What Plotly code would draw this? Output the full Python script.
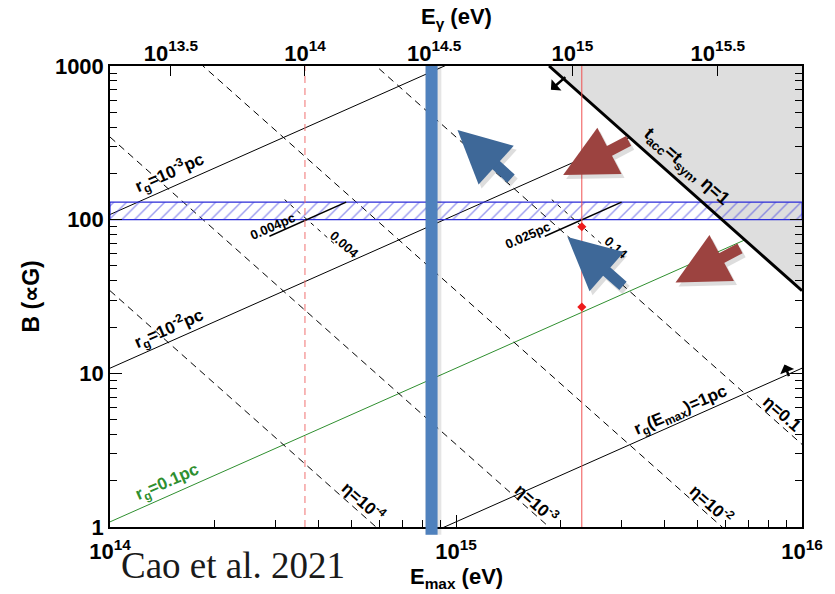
import numpy as np
import plotly.graph_objects as go

# ---------------- data ----------------
E_RANGE = [1e14, 1e16]          # E_max axis (eV)
B_RANGE = [1.0, 1000.0]         # magnetic field axis (uG)

rg_lines_pc = [1e-3, 1e-2, 0.1, 1.0]             # gyroradius contours
rg_colors = ["black", "black", "#2f8f2f", "black"]
eta_lines = [1e-4, 1e-3, 1e-2, 0.1]              # dashed efficiency contours
eta_limit = 1.0                                  # t_acc = t_syn, eta = 1

band_B = [100.0, 130.0]                          # hatched field band
rg_segments_pc = [0.004, 0.025]
rg_segment_B = [78.0, 130.0]
eta_segments = [0.004, 0.14]
eta_segment_B = [70.0, 135.0]

E_red_dashed = 3.66e14
E_red_solid = 2.31e15
E_blue_bar = 8.5e14
red_marks_B = [90.0, 27.0]

egamma_at_Emax = [1.50e14, 3.66e14, 8.65e14, 2.17e15, 5.71e15]
egamma_labels = ["10<sup>13.5</sup>", "10<sup>14</sup>", "10<sup>14.5</sup>",
                 "10<sup>15</sup>", "10<sup>15.5</sup>"]

x_major = [1e14, 1e15, 1e16]
x_major_text = ["10<sup>14</sup>", "10<sup>15</sup>", "10<sup>16</sup>"]
y_major = [1, 10, 100, 1000]
y_major_text = ["1", "10", "100", "1000"]


# ---------------- relations ----------------
def B_rg(E, rg):
    """Field giving gyroradius rg (pc) at energy E (eV)."""
    return 1.08 * (np.asarray(E) / 1e15) / rg


def E_rg(B, rg):
    return np.asarray(B) * rg / 1.08 * 1e15


def B_eta(E, eta):
    """Field where synchrotron loss limits acceleration at efficiency eta."""
    return 3450.0 * eta / (np.asarray(E) / 1e15) ** 2


def E_eta(B, eta):
    return 1e15 * np.sqrt(3450.0 * eta / np.asarray(B))


FONT = "Liberation Sans, Arial, sans-serif"
fig = go.Figure()

# gyroradius lines
for rg, col in zip(rg_lines_pc, rg_colors):
    fig.add_trace(go.Scatter(x=E_RANGE, y=B_rg(E_RANGE, rg), mode="lines",
                             line=dict(color=col, width=1), hoverinfo="skip"))

# efficiency lines
for eta in eta_lines:
    fig.add_trace(go.Scatter(x=E_RANGE, y=B_eta(E_RANGE, eta), mode="lines",
                             line=dict(color="black", width=1, dash="7px,5px"),
                             hoverinfo="skip"))

# excluded region beyond eta = 1
e_top = float(E_eta(B_RANGE[1], eta_limit))
fig.add_trace(go.Scatter(
    x=[e_top, E_RANGE[1], E_RANGE[1], e_top],
    y=[B_RANGE[1], float(B_eta(E_RANGE[1], eta_limit)), B_RANGE[1], B_RANGE[1]],
    mode="lines", fill="toself", fillcolor="#dedede",
    line=dict(width=0), hoverinfo="skip"))

# hatched band
fig.add_trace(go.Scatter(
    x=[E_RANGE[0], E_RANGE[1], E_RANGE[1], E_RANGE[0], E_RANGE[0]],
    y=[band_B[0], band_B[0], band_B[1], band_B[1], band_B[0]],
    mode="lines", fill="toself", fillcolor="rgba(0,0,0,0)",
    fillpattern=dict(shape="/", fgcolor="#3c3ce0", bgcolor="rgba(0,0,0,0)",
                     size=9, solidity=0.16),
    line=dict(color="#2a2ad8", width=1.2), hoverinfo="skip"))

# short gyroradius segments
for rg in rg_segments_pc:
    fig.add_trace(go.Scatter(x=E_rg(rg_segment_B, rg), y=rg_segment_B, mode="lines",
                             line=dict(color="black", width=1.5), hoverinfo="skip"))

# short efficiency segments
for eta in eta_segments:
    fig.add_trace(go.Scatter(x=E_eta(eta_segment_B, eta), y=eta_segment_B, mode="lines",
                             line=dict(color="black", width=1, dash="4px,5px"),
                             hoverinfo="skip"))

# synchrotron limit
fig.add_trace(go.Scatter(x=[e_top, E_RANGE[1]],
                         y=[B_RANGE[1], float(B_eta(E_RANGE[1], eta_limit))],
                         mode="lines", line=dict(color="black", width=3),
                         hoverinfo="skip"))

# vertical energy markers
fig.add_trace(go.Scatter(x=[E_red_dashed, E_red_dashed], y=B_RANGE, mode="lines",
                         line=dict(color="#f07070", width=1, dash="7px,5px"),
                         hoverinfo="skip"))
fig.add_trace(go.Scatter(x=[E_red_solid, E_red_solid], y=B_RANGE, mode="lines",
                         line=dict(color="#f05050", width=1), hoverinfo="skip"))
fig.add_trace(go.Scatter(x=[E_red_solid] * len(red_marks_B), y=red_marks_B,
                         mode="markers",
                         marker=dict(symbol="diamond", size=7, color="#ee1c1c"),
                         hoverinfo="skip"))

# invisible trace for the top E_gamma axis
fig.add_trace(go.Scatter(x=E_RANGE, y=B_RANGE, xaxis="x2", mode="markers",
                         marker=dict(opacity=0), hoverinfo="skip"))

# blue energy bar (with soft shadow)
fig.add_shape(type="line", xref="x", yref="paper", x0=E_blue_bar * 1.012,
              x1=E_blue_bar * 1.012, y0=-0.017, y1=1.0,
              line=dict(color="rgba(0,0,0,0.10)", width=16), layer="above")
fig.add_shape(type="line", xref="x", yref="paper", x0=E_blue_bar, x1=E_blue_bar,
              y0=-0.017, y1=1.0, line=dict(color="#4f81bd", width=12), layer="above")

ann = []
lg = np.log10


def label(text, E, B, angle, size=17, color="black", xshift=0, yshift=0):
    ann.append(dict(x=lg(E), y=lg(B), xref="x", yref="y", text=f"<b>{text}</b>",
                    showarrow=False, textangle=angle, xshift=xshift, yshift=yshift,
                    font=dict(family=FONT, size=size, color=color)))


ANG_RG = -23.7
ANG_ETA = 41.3

label("r<sub>g</sub>=10<sup>-3</sup>pc", 1.49e14, B_rg(1.49e14, 1e-3), ANG_RG, yshift=15)
label("r<sub>g</sub>=10<sup>-2</sup>pc", 1.48e14, B_rg(1.48e14, 1e-2), ANG_RG, yshift=14)
label("r<sub>g</sub>=0.1pc", 1.47e14, B_rg(1.47e14, 0.1), ANG_RG, color="#2f8f2f", yshift=13)
label("r<sub>g</sub>(E<sub>max</sub>)=1pc", 4.48e15, B_rg(4.48e15, 1.0), ANG_RG, yshift=11)
label("η=0.1", 8.5e15, B_eta(8.5e15, 0.1), ANG_ETA, yshift=9, xshift=4)
label("η=10<sup>-2</sup>", 5.36e15, B_eta(5.36e15, 1e-2), ANG_ETA, yshift=11, xshift=4)
label("η=10<sup>-3</sup>", 1.67e15, B_eta(1.67e15, 1e-3), ANG_ETA, yshift=10, xshift=4)
label("η=10<sup>-4</sup>", 5.28e14, B_eta(5.28e14, 1e-4), ANG_ETA, yshift=12, xshift=4)
label("t<sub>acc</sub>=t<sub>syn</sub>, η=1", 4.40e15, B_eta(4.40e15, 1.0), ANG_ETA,
      size=18, yshift=14, xshift=8)
label("0.004pc", 2.95e14, B_rg(2.95e14, 0.004), ANG_RG, size=13, yshift=8)
label("0.025pc", 1.61e15, B_rg(1.61e15, 0.025), ANG_RG, size=13, yshift=8)
label("0.004", 4.6e14, B_eta(4.6e14, 0.004), ANG_ETA, size=13, xshift=5, yshift=4)
label("0.14", 2.8e15, B_eta(2.8e15, 0.14), ANG_ETA, size=13, xshift=5, yshift=4)


def big_arrow(E, B, ax, ay, color):
    base = dict(x=lg(E), y=lg(B), xref="x", yref="y", ax=ax, ay=ay, text="",
                showarrow=True, arrowhead=2, arrowsize=0.95, arrowwidth=11)
    ann.append(dict(base, arrowcolor="rgba(0,0,0,0.13)", xshift=3, yshift=-4))
    ann.append(dict(base, arrowcolor=color))


BLUE_ARROW = "#3e6898"
RED_ARROW = "#9c4340"
big_arrow(1.01e15, 383, 55, 50, BLUE_ARROW)
big_arrow(2.10e15, 77, 57, 50, BLUE_ARROW)
big_arrow(2.04e15, 195, 67, -35, RED_ARROW)
big_arrow(4.31e15, 39, 66, -35, RED_ARROW)


def small_arrow(E, B, ax, ay):
    ann.append(dict(x=lg(E), y=lg(B), xref="x", yref="y", ax=ax, ay=ay, text="",
                    showarrow=True, arrowhead=1, arrowsize=1.0, arrowwidth=2.5,
                    arrowcolor="black", standoff=0, startstandoff=0))


# small direction arrows (away from the synchrotron limit, up from r_g = 1 pc)
small_arrow(1.88e15, 700, 16, -14)
small_arrow(8.9e15, 11.4, 5, 13)

# axis titles and credit
ann.append(dict(x=0.5, y=0, xref="paper", yref="paper", yshift=-51, yanchor="middle",
                showarrow=False, text="<b>E<sub>max</sub> (eV)</b>",
                font=dict(family=FONT, size=22, color="black")))
ann.append(dict(x=0.5, y=1, xref="paper", yref="paper", yshift=48, yanchor="middle",
                showarrow=False, text="<b>E<sub>γ</sub> (eV)</b>",
                font=dict(family=FONT, size=22, color="black")))
ann.append(dict(x=0, y=0.5, xref="paper", yref="paper", xshift=-80, xanchor="center",
                yanchor="middle", showarrow=False, textangle=-90,
                text="<b>B (∝G)</b>", font=dict(family=FONT, size=23, color="black")))
ann.append(dict(x=0, y=0, xref="paper", yref="paper", xshift=9, yshift=-38,
                xanchor="left", yanchor="middle", showarrow=False,
                text="Cao et al. 2021",
                font=dict(family="Liberation Serif, Times New Roman, serif", size=37,
                          color="#1a1a1a")))

tickfont = dict(family=FONT, size=22, color="black", weight="bold")

fig.update_layout(
    width=835, height=594,
    margin=dict(l=110, r=25, t=66, b=67),
    paper_bgcolor="white", plot_bgcolor="white",
    showlegend=False,
    annotations=ann,
    xaxis=dict(type="log", range=[lg(E_RANGE[0]), lg(E_RANGE[1])],
               showgrid=False, zeroline=False, showline=True, linecolor="black",
               linewidth=1.5, mirror=True, ticks="inside", ticklen=12, tickwidth=1,
               tickcolor="black", tickmode="array", tickvals=x_major,
               ticktext=x_major_text, tickfont=tickfont, ticklabelstandoff=4,
               minor=dict(ticks="inside", ticklen=7, tickcolor="black", tickwidth=1,
                          tickmode="array",
                          tickvals=[m * d for d in (1e14, 1e15) for m in range(2, 10)],
                          showgrid=False)),
    xaxis2=dict(type="log", overlaying="x", side="top",
                range=[lg(E_RANGE[0]), lg(E_RANGE[1])], showgrid=False,
                zeroline=False, showline=False, ticks="inside", ticklen=10,
                tickcolor="black", tickmode="array", tickvals=egamma_at_Emax,
                ticktext=egamma_labels, tickfont=tickfont),
    yaxis=dict(type="log", range=[lg(B_RANGE[0]), lg(B_RANGE[1])],
               showgrid=False, zeroline=False, showline=True, linecolor="black",
               linewidth=1.5, mirror="ticks", ticks="inside", ticklen=12,
               tickcolor="black", tickmode="array", tickvals=y_major,
               ticktext=y_major_text, tickfont=tickfont,
               minor=dict(ticks="inside", ticklen=7, tickcolor="black", tickwidth=1,
                          tickmode="array",
                          tickvals=[m * d for d in (1, 10, 100) for m in range(2, 10)],
                          showgrid=False)),
)

fig.write_html("out.html")
